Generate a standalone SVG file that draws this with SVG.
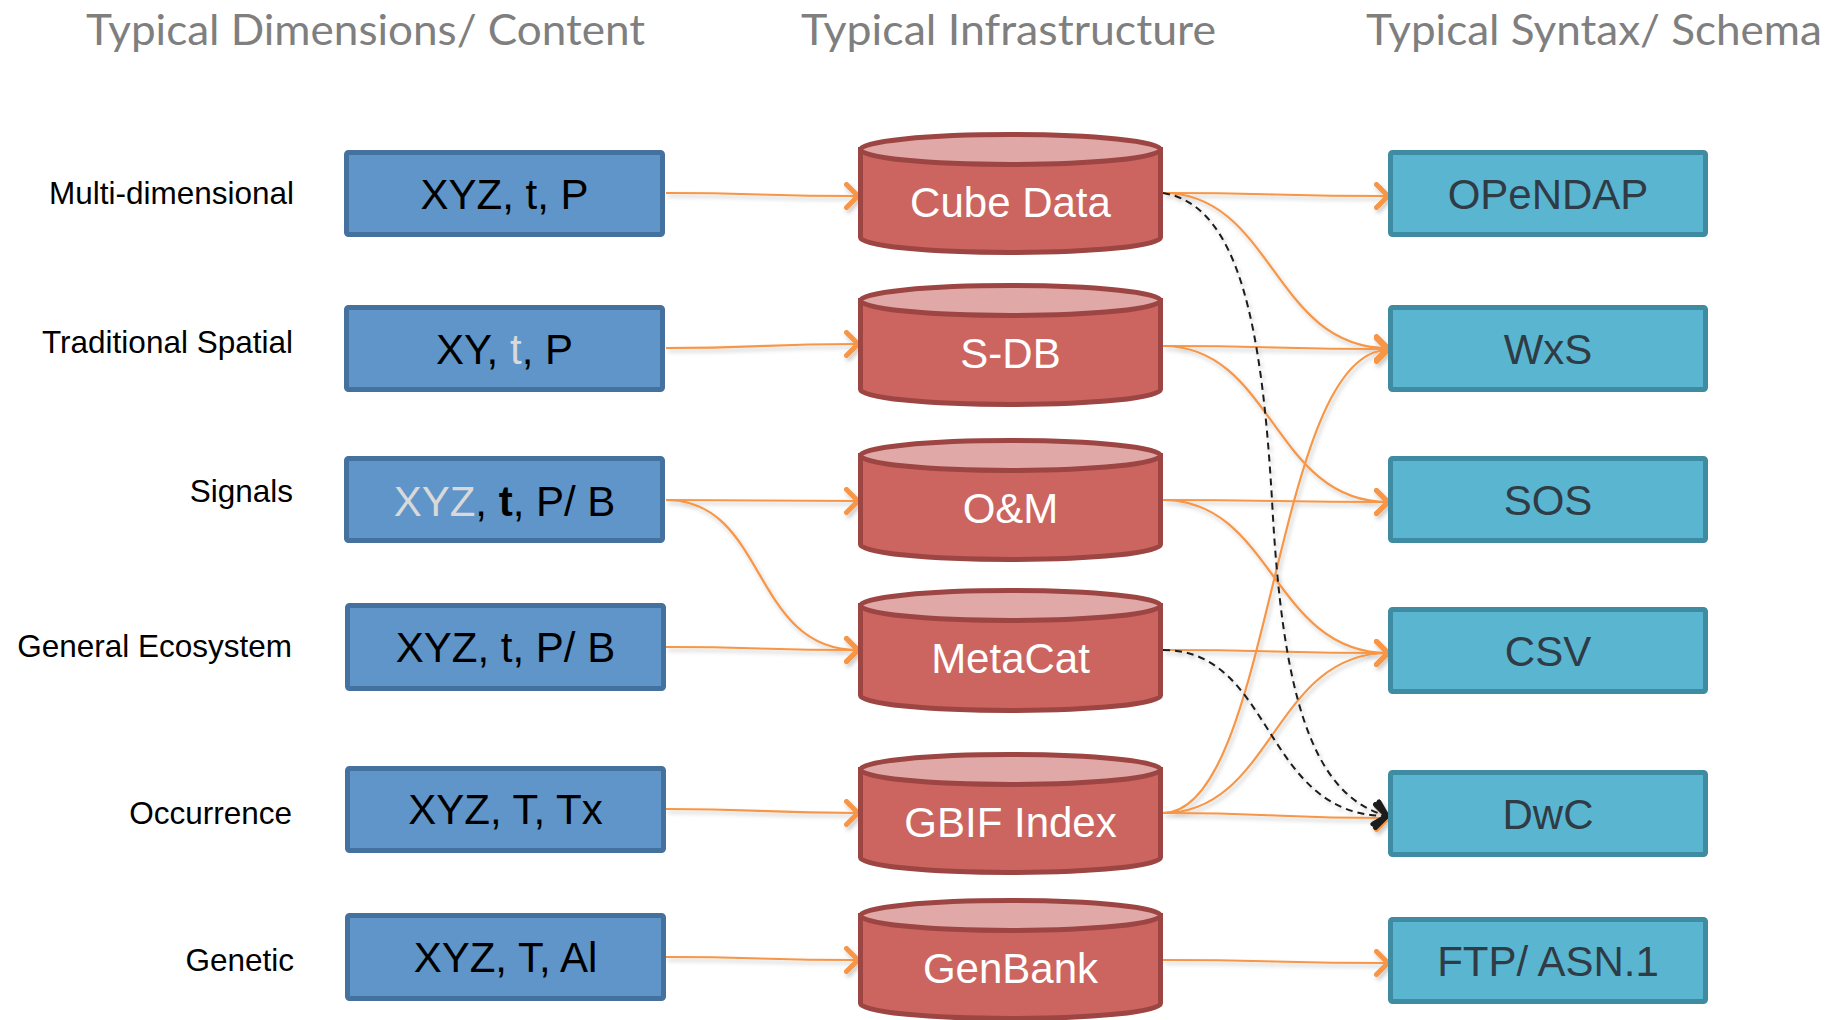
<svg xmlns="http://www.w3.org/2000/svg" width="1826" height="1020" viewBox="0 0 1826 1020">
<style>
.title{font-family:Lato,"Open Sans","Liberation Sans",sans-serif;font-size:42px;fill:#7f7f7f}
.lbl{font-family:"Liberation Sans",Arial,sans-serif;font-size:31.5px;fill:#000;text-anchor:end}
.bbox{fill:#5f95c8;stroke:#44719e;stroke-width:5}
.btxt{font-family:"Liberation Sans",Arial,sans-serif;font-size:42px;fill:#000;text-anchor:middle}
.cyl{fill:#cc6560;stroke:#9c4542;stroke-width:5}
.cyltop{fill:#e0a8a6;stroke:#9c4542;stroke-width:5}
.ctxt{font-family:"Liberation Sans",Arial,sans-serif;font-size:42px;fill:#fff;text-anchor:middle}
.tbox{fill:#5ab6d0;stroke:#3f8ba1;stroke-width:5}
.ttxt{font-family:"Liberation Sans",Arial,sans-serif;font-size:42px;fill:#2f3b45;text-anchor:middle}
.or{fill:none;stroke:#f79646;stroke-width:2.2;marker-end:url(#ao)}
.dk{fill:none;stroke:#1e1e1e;stroke-width:2;stroke-dasharray:7 5;marker-end:url(#ak)}
</style>
<defs>
<marker id="ao" viewBox="0 0 16 28" refX="14" refY="14" markerWidth="16" markerHeight="28" markerUnits="userSpaceOnUse" orient="auto">
<path d="M2.5,2.5 L14,14 L2.5,25.5" fill="none" stroke="#f79646" stroke-width="5" stroke-linecap="round" stroke-linejoin="round"/>
</marker>
<marker id="ak" viewBox="0 0 16 28" refX="14" refY="14" markerWidth="16" markerHeight="28" markerUnits="userSpaceOnUse" orient="auto">
<path d="M2.5,2.5 L14,14 L2.5,25.5" fill="none" stroke="#1e1e1e" stroke-width="5" stroke-dasharray="none" stroke-linecap="round" stroke-linejoin="round"/>
</marker>
<filter id="sh" x="-10%" y="-10%" width="120%" height="130%">
<feDropShadow dx="2" dy="3" stdDeviation="2" flood-color="#000" flood-opacity="0.22"/>
</filter>
</defs>
<rect width="1826" height="1020" fill="#fff"/>

<g id="titles">
<text class="title" x="86" y="45" textLength="559" lengthAdjust="spacingAndGlyphs">Typical Dimensions/ Content</text>
<text class="title" x="801" y="45" textLength="415" lengthAdjust="spacingAndGlyphs">Typical Infrastructure</text>
<text class="title" x="1366" y="45" textLength="456" lengthAdjust="spacingAndGlyphs">Typical Syntax/ Schema</text>
</g>

<g id="row-labels">
<text class="lbl" x="294" y="204">Multi-dimensional</text>
<text class="lbl" x="293" y="353">Traditional Spatial</text>
<text class="lbl" x="293" y="502">Signals</text>
<text class="lbl" x="292" y="657">General Ecosystem</text>
<text class="lbl" x="292" y="824">Occurrence</text>
<text class="lbl" x="294" y="971">Genetic</text>
</g>

<g id="connectors" filter="url(#sh)">
<path class="or" d="M666,193 C760,193 760,196 858,196"/>
<path class="or" d="M666,348 C760,348 760,344 858,344"/>
<path class="or" d="M666,500 C760,500 760,501 858,501"/>
<path class="or" d="M666,500 C768,500 750,650 858,650"/>
<path class="or" d="M666,647 C760,647 760,650 858,650"/>
<path class="or" d="M666,809 C760,809 760,813 858,813"/>
<path class="or" d="M666,957 C760,957 760,960 858,960"/>

<path class="or" d="M1163,193 C1275,193 1275,196 1388,196"/>
<path class="or" d="M1163,193 C1273,193 1273,348 1388,348"/>
<path class="or" d="M1163,346 C1275,346 1275,349 1388,349"/>
<path class="or" d="M1163,346 C1273,346 1273,502 1388,502"/>
<path class="or" d="M1163,500 C1275,500 1275,502 1388,502"/>
<path class="or" d="M1163,500 C1273,500 1273,653 1388,653"/>
<path class="or" d="M1163,650 C1275,650 1275,653 1388,653"/>
<path class="or" d="M1163,813 C1273,813 1273,350 1388,350"/>
<path class="or" d="M1163,813 C1273,813 1273,653 1388,653"/>
<path class="or" d="M1163,813 C1275,813 1275,818 1388,818"/>
<path class="or" d="M1163,960 C1275,960 1275,963 1388,963"/>

<path class="dk" d="M1163,193 C1240,205 1262,330 1272,500 C1282,690 1310,795 1387,816"/>
<path class="dk" d="M1163,650 C1275,650 1262,816 1387,816"/>
</g>

<g id="dim-1"><rect class="bbox" x="346.5" y="152.5" width="316" height="82" rx="2"/><text class="btxt" x="504.5" y="209">XYZ, t, P</text></g>
<g id="dim-2"><rect class="bbox" x="346.5" y="307.5" width="316" height="82" rx="2"/><text class="btxt" x="504.5" y="364">XY, <tspan fill="#d9d9d9">t</tspan>, P</text></g>
<g id="dim-3"><rect class="bbox" x="346.5" y="458.5" width="316" height="82" rx="2"/><text class="btxt" x="504.5" y="516"><tspan fill="#d9d9d9">XYZ</tspan>, <tspan font-weight="bold">t</tspan>, P/ B</text></g>
<g id="dim-4"><rect class="bbox" x="347.5" y="605.5" width="316" height="83" rx="2"/><text class="btxt" x="505.5" y="662">XYZ, t, P/ B</text></g>
<g id="dim-5"><rect class="bbox" x="347.5" y="768.5" width="316" height="82" rx="2"/><text class="btxt" x="505.5" y="824">XYZ, T, Tx</text></g>
<g id="dim-6"><rect class="bbox" x="347.5" y="915.5" width="316" height="83" rx="2"/><text class="btxt" x="505.5" y="972">XYZ, T, Al</text></g>

<g id="infra-1"><path class="cyl" d="M860.5,149.5 V237.5 A150,15 0 0 0 1160.5,237.5 V149.5 Z"/><ellipse class="cyltop" cx="1010.5" cy="149.5" rx="150" ry="15"/><text class="ctxt" x="1010.5" y="217">Cube Data</text></g>
<g id="infra-2"><path class="cyl" d="M860.5,300.5 V389.5 A150,15 0 0 0 1160.5,389.5 V300.5 Z"/><ellipse class="cyltop" cx="1010.5" cy="300.5" rx="150" ry="15"/><text class="ctxt" x="1010.5" y="368">S-DB</text></g>
<g id="infra-3"><path class="cyl" d="M860.5,455.5 V544.5 A150,15 0 0 0 1160.5,544.5 V455.5 Z"/><ellipse class="cyltop" cx="1010.5" cy="455.5" rx="150" ry="15"/><text class="ctxt" x="1010.5" y="523">O&amp;M</text></g>
<g id="infra-4"><path class="cyl" d="M860.5,605.5 V695.5 A150,15 0 0 0 1160.5,695.5 V605.5 Z"/><ellipse class="cyltop" cx="1010.5" cy="605.5" rx="150" ry="15"/><text class="ctxt" x="1010.5" y="673">MetaCat</text></g>
<g id="infra-5"><path class="cyl" d="M860.5,769.5 V857.5 A150,15 0 0 0 1160.5,857.5 V769.5 Z"/><ellipse class="cyltop" cx="1010.5" cy="769.5" rx="150" ry="15"/><text class="ctxt" x="1010.5" y="837">GBIF Index</text></g>
<g id="infra-6"><path class="cyl" d="M860.5,915.5 V1003.5 A150,15 0 0 0 1160.5,1003.5 V915.5 Z"/><ellipse class="cyltop" cx="1010.5" cy="915.5" rx="150" ry="15"/><text class="ctxt" x="1010.5" y="983">GenBank</text></g>

<g id="schema-1"><rect class="tbox" x="1390.5" y="152.5" width="315" height="82" rx="2"/><text class="ttxt" x="1548" y="209">OPeNDAP</text></g>
<g id="schema-2"><rect class="tbox" x="1390.5" y="307.5" width="315" height="82" rx="2"/><text class="ttxt" x="1548" y="364">WxS</text></g>
<g id="schema-3"><rect class="tbox" x="1390.5" y="458.5" width="315" height="82" rx="2"/><text class="ttxt" x="1548" y="515">SOS</text></g>
<g id="schema-4"><rect class="tbox" x="1390.5" y="609.5" width="315" height="82" rx="2"/><text class="ttxt" x="1548" y="666">CSV</text></g>
<g id="schema-5"><rect class="tbox" x="1390.5" y="772.5" width="315" height="82" rx="2"/><text class="ttxt" x="1548" y="829">DwC</text></g>
<g id="schema-6"><rect class="tbox" x="1390.5" y="919.5" width="315" height="82" rx="2"/><text class="ttxt" x="1548" y="976">FTP/ ASN.1</text></g>
</svg>
